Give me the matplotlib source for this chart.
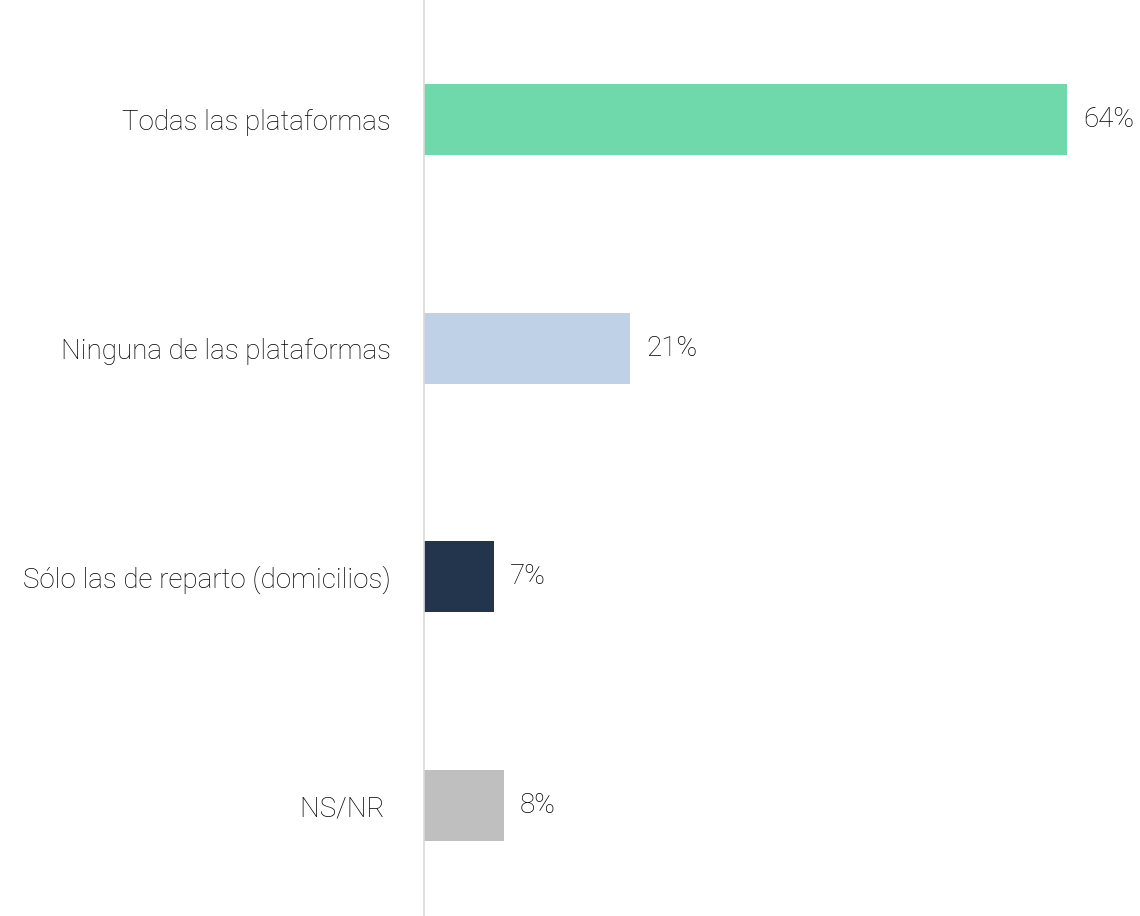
import matplotlib.pyplot as plt

categories = ['Todas las plataformas', 'Ninguna de las plataformas',
              'Sólo las de reparto (domicilios)', 'NS/NR ']
values = [64.3, 20.6, 7.0, 8.0]
labels = ['64%', '21%', '7%', '8%']
colors = ['#6fd9ac', '#bed1e6', '#22354d', '#bfbfbf']

plt.rcParams['font.family'] = ['Roboto', 'DejaVu Sans']

fig = plt.figure(figsize=(11.4, 9.16), dpi=100)
ax = fig.add_axes([0.372, 0.0, 0.628, 1.0])

y = range(len(categories))
ax.barh(y, values, height=0.31, color=colors)

# value labels to the right of each bar
for i, (v, lab) in enumerate(zip(values, labels)):
    ax.text(v + 1.6, i, lab, va='center', ha='left', fontsize=20,
            fontweight='light', color='#000000')

ax.set_xlim(0, 71.6)
ax.set_ylim(3.483, -0.523)
ax.set_yticks(list(y))
ax.set_yticklabels(categories, fontsize=20, fontweight='light', color='#000000')
ax.tick_params(axis='y', length=0, pad=23.8)
ax.set_xticks([])

for s in ['top', 'right', 'bottom']:
    ax.spines[s].set_visible(False)
ax.spines['left'].set_color('#d9d9d9')
ax.spines['left'].set_linewidth(1.2)

fig.savefig('out.png', dpi=100)
